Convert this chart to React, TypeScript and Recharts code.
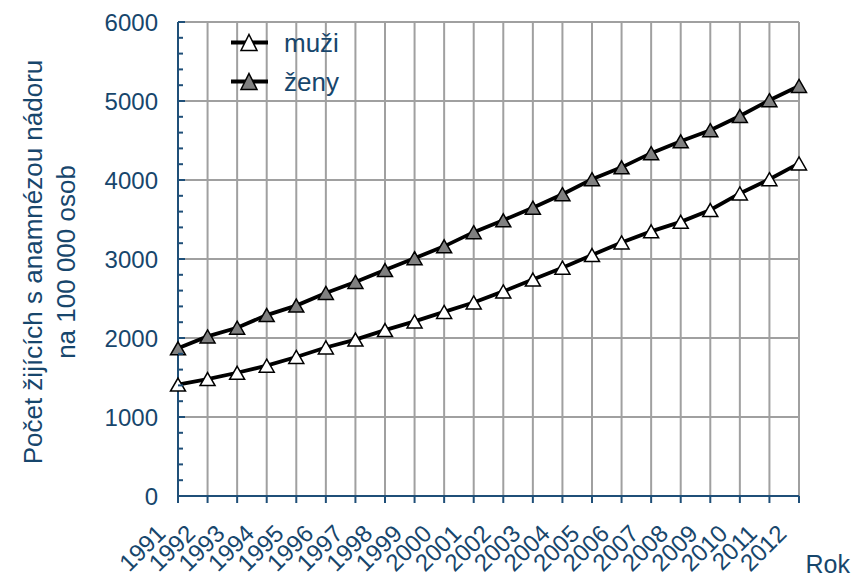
import { LineChart, Line, XAxis, YAxis, CartesianGrid, Legend } from "recharts";

const years = [
  1991, 1992, 1993, 1994, 1995, 1996, 1997, 1998, 1999, 2000, 2001,
  2002, 2003, 2004, 2005, 2006, 2007, 2008, 2009, 2010, 2011, 2012,
];

// muži
const muzi = [
  1410, 1480, 1560, 1650, 1760, 1880, 1980, 2100, 2210, 2330, 2450,
  2590, 2740, 2890, 3050, 3210, 3350, 3470, 3620, 3830, 4010, 4210,
];

// ženy
const zeny = [
  1870, 2020, 2130, 2290, 2410, 2570, 2710, 2860, 3010, 3160, 3340,
  3490, 3650, 3820, 4010, 4160, 4340, 4490, 4630, 4810, 5010, 5190,
];

const majorTicks = [0, 1000, 2000, 3000, 4000, 5000, 6000];
const minorStep = 200;
const yTicks = Array.from({ length: 6000 / minorStep + 1 }, (_, i) => i * minorStep);

const data = years.map((year, i) => ({ year, muzi: muzi[i], zeny: zeny[i] }));

const textColor = "#17466c";
const axisColor = "#1f4f78";
const font = "'Liberation Sans', Arial, sans-serif";

const triPath = (cx: number, cy: number, hw: number, h: number) =>
  `M${cx},${cy - h / 2} L${cx + hw},${cy + h / 2} L${cx - hw},${cy + h / 2} Z`;

const makeDot = (fill: string, id: string) => (p: any) => {
  if (p.cx == null || p.cy == null) return <g key={`${id}-${p.index}`} />;
  return (
    <path
      key={`${id}-${p.index}`}
      d={triPath(p.cx, p.cy, 7.5, 13)}
      fill={fill}
      stroke="#000"
      strokeWidth={1.5}
      strokeLinejoin="miter"
    />
  );
};

const YTick = (props: any) => {
  const { x, y, payload } = props;
  const major = majorTicks.includes(payload.value);
  return (
    <g>
      <line x1={x} y1={y} x2={x + (major ? 7 : 5)} y2={y} stroke={axisColor} strokeWidth={2} />
      {major && (
        <text
          x={x - 20}
          y={y}
          textAnchor="end"
          dominantBaseline="central"
          fill={textColor}
          fontSize={24}
          fontFamily={font}
        >
          {payload.value}
        </text>
      )}
    </g>
  );
};

const XTick = (props: any) => {
  const { x, y, payload } = props;
  return (
    <g>
      <line x1={x} y1={y} x2={x} y2={y + 7} stroke={axisColor} strokeWidth={2} />
      <text
        transform={`translate(${x - 11},${y + 39}) rotate(-45)`}
        textAnchor="end"
        fill={textColor}
        fontSize={24}
        fontFamily={font}
      >
        {payload.value}
      </text>
    </g>
  );
};

const YTitle = (props: any) => {
  const { viewBox } = props;
  const cy = viewBox.y + viewBox.height / 2 + 3;
  return (
    <g fill={textColor} fontSize={26} fontFamily={font}>
      <text transform={`translate(42,${cy}) rotate(-90)`} textAnchor="middle">
        Počet žijících s anamnézou nádoru
      </text>
      <text transform={`translate(75,${cy}) rotate(-90)`} textAnchor="middle">
        na 100 000 osob
      </text>
    </g>
  );
};

const XTitle = (props: any) => {
  const { viewBox } = props;
  return (
    <text
      x={viewBox.x + viewBox.width + 51}
      y={viewBox.y + viewBox.height - 4}
      textAnchor="end"
      fill={textColor}
      fontSize={25}
      fontFamily={font}
    >
      Rok
    </text>
  );
};

const legendFills: Record<string, string> = { muzi: "#ffffff", zeny: "#808080" };

const renderLegend = (props: any) => {
  const items = props.payload || [];
  return (
    <svg width={360} height={100} style={{ display: "block" }}>
      {items.map((item: any, i: number) => {
        const y = 42.5 + i * 39;
        return (
          <g key={item.value}>
            <line x1={231} y1={y} x2={268} y2={y} stroke="#000" strokeWidth={3.8} />
            <path
              d={triPath(249, y, 8, 16)}
              fill={legendFills[item.dataKey] || "#fff"}
              stroke="#000"
              strokeWidth={1.5}
            />
            <text x={284} y={y + 9.5} fill={textColor} fontSize={26} fontFamily={font}>
              {item.value}
            </text>
          </g>
        );
      })}
    </svg>
  );
};

const App = () => {
  return (
    <div style={{ position: "absolute", left: 0, top: 0, background: "#fff" }}>
      <LineChart width={856} height={577} data={data} margin={{ top: 22, right: 57, left: 0, bottom: 0 }}>
        <CartesianGrid
          stroke="#a0a0a0"
          strokeWidth={2}
          horizontalValues={majorTicks}
          verticalValues={years}
        />
        <XAxis
          dataKey="year"
          type="number"
          domain={[1991, 2012]}
          ticks={years}
          interval={0}
          height={81}
          tickSize={0}
          tickMargin={0}
          tickLine={false}
          axisLine={{ stroke: axisColor, strokeWidth: 2 }}
          tick={<XTick />}
          label={<XTitle />}
        />
        <YAxis
          type="number"
          domain={[0, 6000]}
          ticks={yTicks}
          interval={0}
          width={178}
          tickSize={0}
          tickMargin={0}
          tickLine={false}
          axisLine={{ stroke: axisColor, strokeWidth: 2 }}
          tick={<YTick />}
          label={<YTitle />}
        />
        <Legend
          layout="vertical"
          verticalAlign="middle"
          align="center"
          content={renderLegend}
          wrapperStyle={{ left: 0, top: 0, width: 360, height: 100 }}
        />
        <Line
          dataKey="muzi"
          name="muži"
          type="linear"
          stroke="#000"
          strokeWidth={3.8}
          dot={makeDot("#ffffff", "m")}
          activeDot={false}
          isAnimationActive={false}
        />
        <Line
          dataKey="zeny"
          name="ženy"
          type="linear"
          stroke="#000"
          strokeWidth={3.8}
          dot={makeDot("#808080", "z")}
          activeDot={false}
          isAnimationActive={false}
        />
      </LineChart>
    </div>
  );
};

export default App;
